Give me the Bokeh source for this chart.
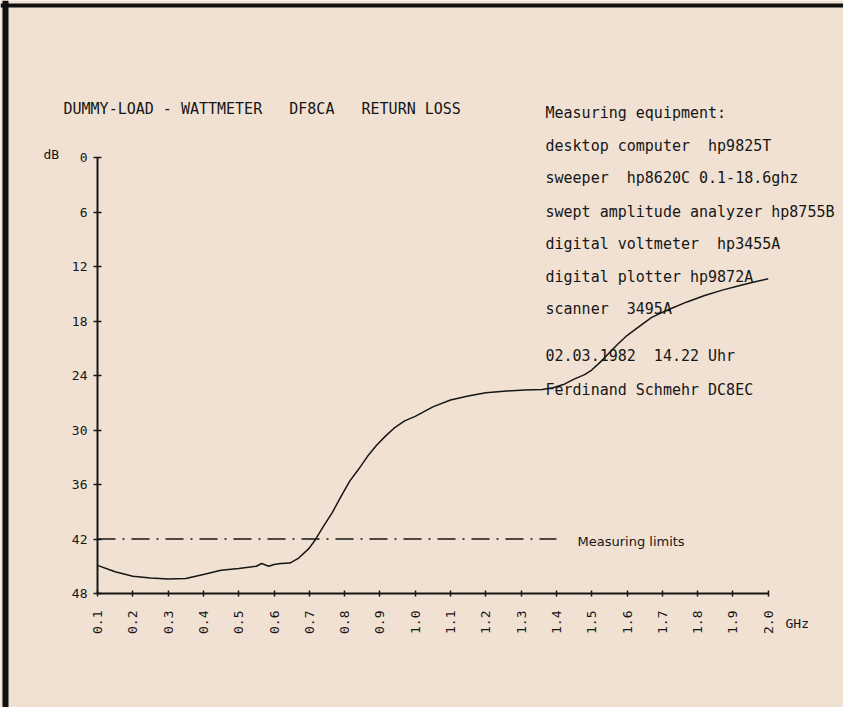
import math
from bokeh.plotting import figure
from bokeh.models import Range1d, FixedTicker, Label, BoxAnnotation
from bokeh.embed import file_html
from bokeh.resources import INLINE

# ---------------- data ----------------
freq_ghz = [0.10, 0.15, 0.20, 0.25, 0.30, 0.35, 0.40, 0.45, 0.50, 0.55,
            0.565, 0.585, 0.60, 0.62, 0.645, 0.67, 0.70, 0.715, 0.74, 0.765,
            0.79, 0.815, 0.84, 0.865, 0.89, 0.915, 0.94, 0.97, 1.00, 1.05,
            1.10, 1.15, 1.20, 1.26, 1.31, 1.36, 1.39, 1.42, 1.45, 1.48,
            1.50, 1.525, 1.55, 1.575, 1.60, 1.635, 1.67, 1.72, 1.77, 1.82,
            1.87, 1.92, 1.96, 2.00]
return_loss_db = [44.9, 45.6, 46.1, 46.3, 46.4, 46.35, 45.9, 45.45, 45.25, 45.0,
                  44.7, 45.0, 44.8, 44.7, 44.65, 44.1, 43.0, 42.2, 40.6, 39.1,
                  37.3, 35.6, 34.3, 32.9, 31.7, 30.7, 29.8, 29.0, 28.5, 27.45,
                  26.7, 26.25, 25.9, 25.7, 25.6, 25.55, 25.35, 25.0, 24.4, 23.9,
                  23.4, 22.5, 21.5, 20.5, 19.6, 18.6, 17.6, 16.7, 15.9, 15.2,
                  14.6, 14.1, 13.7, 13.35]

limit_freq = [0.1, 1.40]
limit_db = [42, 42]
limit_label = "Measuring limits"

x_ticks = [0.1, 0.2, 0.3, 0.4, 0.5, 0.6, 0.7, 0.8, 0.9, 1.0,
           1.1, 1.2, 1.3, 1.4, 1.5, 1.6, 1.7, 1.8, 1.9, 2.0]
x_tick_labels = ["0.1", "0.2", "0.3", "0.4", "0.5", "0.6", "0.7", "0.8", "0.9", "1.0",
                 "1.1", "1.2", "1.3", "1.4", "1.5", "1.6", "1.7", "1.8", "1.9", "2.0"]
y_ticks = [0, 6, 12, 18, 24, 30, 36, 42, 48]
y_tick_labels = ["0", "6", "12", "18", "24", "30", "36", "42", "48"]

title_text = "DUMMY-LOAD - WATTMETER   DF8CA   RETURN LOSS"
y_unit = "dB"
x_unit = "GHz"
info_lines = ["Measuring equipment:",
              "desktop computer  hp9825T",
              "sweeper  hp8620C 0.1-18.6ghz",
              "swept amplitude analyzer hp8755B",
              "digital voltmeter  hp3455A",
              "digital plotter hp9872A",
              "scanner  3495A",
              "02.03.1982  14.22 Uhr",
              "Ferdinand Schmehr DC8EC"]

# ---------------- layout ----------------
W, H = 843, 707
XS = 353.0            # px per GHz
X01_PX = 97.0         # pixel column of 0.1 GHz
Y0_PX = 157.0         # pixel row of 0 dB
Y48_PX = 593.0        # pixel row of 48 dB
YS = (Y48_PX - Y0_PX) / 48.0
BG = "#f0e1d3"
INK = "#161616"
MONO = "DejaVu Sans Mono"

x_start = 0.1 - X01_PX / XS
y_top = -Y0_PX / YS
y_bottom = 48 + (H - Y48_PX) / YS

def dx(xp):  # pixel -> data x
    return 0.1 + (xp - X01_PX) / XS

def dy(yp):  # pixel -> data y
    return (yp - Y0_PX) / YS

p = figure(width=W, height=H, output_backend="svg", toolbar_location=None,
           x_range=Range1d(x_start, x_start + W / XS),
           y_range=Range1d(y_bottom, y_top),
           min_border=0, min_border_left=0, min_border_bottom=0,
           min_border_top=0, min_border_right=0,
           background_fill_color=BG, border_fill_color=BG, outline_line_color=None)
p.xgrid.visible = False
p.ygrid.visible = False

# dark scan edges (left and top)
p.add_layout(BoxAnnotation(left=2, right=8, left_units="screen", right_units="screen",
                           fill_color="#111111", fill_alpha=1, line_color=None))
p.add_layout(BoxAnnotation(top=H - 3, bottom=H - 7, top_units="screen", bottom_units="screen",
                           fill_color="#111111", fill_alpha=1, line_color=None))

for ax in (p.xaxis[0], p.yaxis[0]):
    ax.axis_line_width = 2
    ax.axis_line_color = INK
    ax.major_tick_line_color = INK
    ax.major_tick_line_width = 1.5
    ax.minor_tick_line_color = None
    ax.major_label_text_font = MONO
    ax.major_label_text_font_size = "13px"
    ax.major_label_text_color = INK

yax = p.yaxis[0]
yax.ticker = FixedTicker(ticks=y_ticks)
yax.major_label_overrides = dict(zip(y_ticks, y_tick_labels))
yax.bounds = (0, 48)
yax.fixed_location = 0.1
yax.major_tick_in = 4
yax.major_tick_out = 4
yax.major_label_standoff = 6

xax = p.xaxis[0]
xax.ticker = FixedTicker(ticks=x_ticks)
xax.major_label_overrides = dict(zip(x_ticks, x_tick_labels))
xax.bounds = (0.1, 2.0)
xax.fixed_location = 48
xax.major_tick_in = 3
xax.major_tick_out = 3
xax.major_label_standoff = 14
xax.major_label_orientation = math.pi / 2

# curve and measuring limit
p.line(freq_ghz, return_loss_db, line_color=INK, line_width=1.5)
p.line(limit_freq, limit_db, line_color=INK, line_width=1.5, line_dash="18 7 2 7")

def add_text(txt, xp, yp, size="15px", font=MONO):
    p.add_layout(Label(x=dx(xp), y=dy(yp), text=txt.replace("  ", " \u00a0"),
                       text_font=font, text_font_size=size, text_color=INK,
                       text_baseline="middle", text_align="left"))

add_text(title_text, 63, 108, "15px")
add_text(y_unit, 43, 154, "13px")
add_text(x_unit, 785, 623, "13px")
add_text(limit_label, 577, 541, "13px", "DejaVu Sans")

info_y = [112, 145, 177, 211, 243, 276, 308, 355, 389]
for line_txt, yp in zip(info_lines, info_y):
    add_text(line_txt, 545, yp, "15px")

open("out.html", "w").write(file_html(p, INLINE))
